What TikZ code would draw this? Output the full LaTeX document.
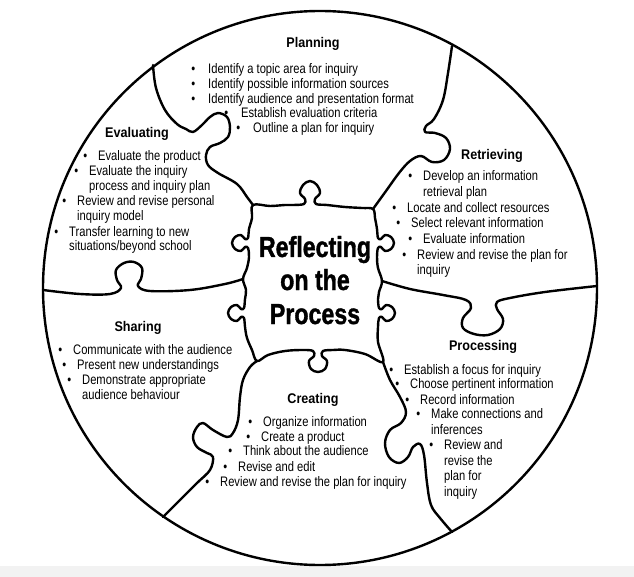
\documentclass[tikz,border=0pt]{standalone}
\usepackage{fontspec}
\setmainfont{Liberation Sans}[FakeStretch=0.81]
\newfontfamily\headfont{Liberation Sans}[FakeStretch=0.9]
\newfontfamily\corefont{Liberation Sans}[FakeStretch=0.8,FakeBold=1.2]
\usetikzlibrary{positioning}
\newcommand{\bul}[1][11pt]{\llap{\textbullet\hspace{#1}}}

\begin{document}
\begin{tikzpicture}[
    x=1pt, y=-1pt,
    seam/.style={line width=2.4pt, line join=round, line cap=round},
    phase/.style={anchor=base, inner sep=0pt, font=\headfont\bfseries\fontsize{14}{16}\selectfont},
    bitem/.style={anchor=base west, inner sep=0pt, font=\fontsize{13.8}{15}\selectfont},
    core/.style={anchor=base, inner sep=0pt, font=\corefont\bfseries\fontsize{29}{33}\selectfont}
]
\useasboundingbox (0,0) rectangle (634,577);
\fill[black!5] (0,566) rectangle (634,577);
\fill[white] (320,288) circle (277pt);

% outer ring
\draw[seam] (320,288) circle (277pt);

% centre piece
\draw[seam] plot[smooth cycle, tension=0.6] coordinates {
  (253,205) (270,206) (285,205) (293,205) (304,204) (305,199) (300,193) (303,185) (310,181)
  (317,185) (320,193) (315,199) (316,204) (327,205) (345,207) (362,208) (373,209)
  (375,218) (377,229) (378,238) (381,239) (385,235) (391,237) (394,243) (391,249) (385,251)
  (381,247) (378,248) (377,257) (378,268) (382,281) (379,292) (378,299) (379,308) (382,309)
  (386,305) (392,307) (395,313) (392,319) (386,321) (382,317) (379,318) (378,327) (378,342)
  (383,362) (365,354) (345,350) (333,350) (323,351) (322,356) (327,361) (325,369) (318,372)
  (311,369) (309,361) (314,356) (313,351) (303,350) (285,351) (268,355) (257,361)
  (252,350) (247,338) (245,327) (244,318) (241,317) (237,321) (231,319) (228,313) (231,307)
  (237,305) (241,309) (244,308) (245,299) (246,290) (243,279) (247,268) (249,257) (248,248)
  (245,247) (241,251) (235,249) (232,243) (235,237) (241,235) (245,239) (248,238) (249,229)
  (252,218)};

% seams between the phases
\draw[seam] plot[smooth, tension=0.6] coordinates {
  (153,65) (156,88) (165,110) (177,124) (186,129) (193,132) (202,125) (210,117) (218,113)
  (227,117) (230,127) (228,137) (220,143) (210,147) (206,155) (208,165) (218,173) (237,184)
  (247,197) (253,205)};
\draw[seam] plot[smooth, tension=0.6] coordinates {
  (452,46) (448,73) (443,100) (434,119) (426,126) (425,132) (435,133) (446,138) (450,149)
  (444,160) (432,162) (421,156) (410,161) (399,173) (386,191) (373,209)};
\draw[seam] plot[smooth, tension=0.6] coordinates {
  (382,281) (410,289) (443,295) (466,300) (471,308) (463,318) (463,328) (474,334) (488,335)
  (500,329) (503,319) (497,309) (497,302) (510,298) (545,292) (597,286)};
\draw[seam] plot[smooth, tension=0.6] coordinates {
  (383,362) (390,380) (400,397) (406,412) (401,423) (390,430) (385,443) (389,457) (399,463)
  (408,457) (413,447) (420,444) (424,455) (427,483) (431,505) (440,518) (452,532)};
\draw[seam] plot[smooth, tension=0.6] coordinates {
  (257,361) (250,367) (243,380) (240,397) (238,420) (233,433) (227,437) (213,430) (203,423)
  (197,427) (193,437) (197,447) (207,453) (213,457) (210,470) (197,483) (180,500) (163,517)};
\draw[seam] plot[smooth, tension=0.6] coordinates {
  (43,290) (80,294) (110,294) (121,288) (117,280) (116,270) (124,263) (134,262) (142,268)
  (141,279) (138,286) (150,291) (190,290) (225,284) (243,279)};

% centre text
\node[core] (core1) at (315,257) {Reflecting};
\node[core] (core2) at (315,290) {on the};
\node[core] (core3) at (315,324) {Process};

% Planning
\node[phase] (plan) at (313,48) {Planning};
\node[bitem] (plan1) at (208,74) {\bul[13pt]Identify a topic area for inquiry};
\node[bitem] (plan2) at (208,88.5) {\bul[13pt]Identify possible information sources};
\node[bitem] (plan3) at (208,103.5) {\bul[13pt]Identify audience and presentation format};
\node[bitem] (plan4) at (241,118) {\bul[13pt]Establish evaluation criteria};
\node[bitem] (plan5) at (253,133) {\bul[13pt]Outline a plan for inquiry};

% Evaluating
\node[phase] (eval) at (137,138) {Evaluating};
\node[bitem] (eval1) at (98,161) {\bul Evaluate the product};
\node[bitem] (eval2) at (89,176) {\bul Evaluate the inquiry};
\node[bitem] (eval2b) at (89,191) {process and inquiry plan};
\node[bitem] (eval3) at (77,206) {\bul Review and revise personal};
\node[bitem] (eval3b) at (77,221) {inquiry model};
\node[bitem] (eval4) at (69,236.5) {\bul Transfer learning to new};
\node[bitem] (eval4b) at (69,251) {situations/beyond school};

% Retrieving
\node[phase] (retr) at (492,160) {Retrieving};
\node[bitem] (retr1) at (423,181) {\bul Develop an information};
\node[bitem] (retr1b) at (423,197) {retrieval plan};
\node[bitem] (retr2) at (407,213) {\bul Locate and collect resources};
\node[bitem] (retr3) at (411,227.5) {\bul Select relevant information};
\node[bitem] (retr4) at (423,243.5) {\bul Evaluate information};
\node[bitem] (retr5) at (417,259) {\bul Review and revise the plan for};
\node[bitem] (retr5b) at (417,274) {inquiry};

% Sharing
\node[phase] (shar) at (138,331) {Sharing};
\node[bitem] (shar1) at (73,354) {\bul Communicate with the audience};
\node[bitem] (shar2) at (77,369) {\bul Present new understandings};
\node[bitem] (shar3) at (82,384.5) {\bul Demonstrate appropriate};
\node[bitem] (shar3b) at (82,399) {audience behaviour};

% Processing
\node[phase] (proc) at (483,350) {Processing};
\node[bitem] (proc1) at (404,374) {\bul Establish a focus for inquiry};
\node[bitem] (proc2) at (410,388.5) {\bul Choose pertinent information};
\node[bitem] (proc3) at (420,404) {\bul Record information};
\node[bitem] (proc4) at (431,418.5) {\bul Make connections and};
\node[bitem] (proc4b) at (431,434) {inferences};
\node[bitem] (proc5) at (444,449.5) {\bul Review and};
\node[bitem] (proc5b) at (444,465) {revise the};
\node[bitem] (proc5c) at (444,480.5) {plan for};
\node[bitem] (proc5d) at (444,496) {inquiry};

% Creating
\node[phase] (crea) at (313,403) {Creating};
\node[bitem] (crea1) at (263,426) {\bul Organize information};
\node[bitem] (crea2) at (261,441) {\bul Create a product};
\node[bitem] (crea3) at (243,455.5) {\bul Think about the audience};
\node[bitem] (crea4) at (238,471) {\bul Revise and edit};
\node[bitem] (crea5) at (220,486) {\bul Review and revise the plan for inquiry};
\end{tikzpicture}
\end{document}
